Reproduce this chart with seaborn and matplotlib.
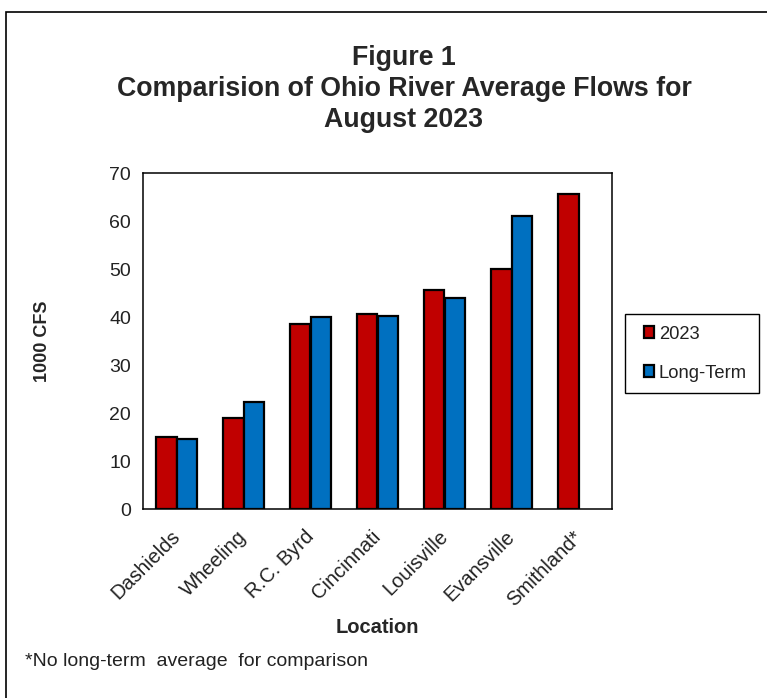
import matplotlib
matplotlib.use("Agg")
import matplotlib.pyplot as plt
import matplotlib.transforms as mtransforms
from matplotlib.patches import Patch, Rectangle
import seaborn as sns
import pandas as pd
import numpy as np

locations = ["Dashields", "Wheeling", "R.C. Byrd", "Cincinnati",
             "Louisville", "Evansville", "Smithland*"]
flow_2023 = [14.9, 18.9, 38.6, 40.7, 45.6, 49.9, 65.6]
flow_long_term = [14.6, 22.3, 39.9, 40.3, 44.0, 61.0, np.nan]
series = ["2023", "Long-Term"]
colors = ["#C00000", "#0070C0"]

df = pd.DataFrame({
    "Location": locations * 2,
    "flow": flow_2023 + flow_long_term,
    "series": [series[0]] * len(locations) + [series[1]] * len(locations),
})

sns.set_style("white")
plt.rcParams["font.family"] = ["Liberation Sans", "DejaVu Sans"]

W, H = 767, 698
fig = plt.figure(figsize=(W / 100, H / 100), dpi=100)
ax = fig.add_axes([143 / W, 1 - 509 / H, (612 - 143) / W, (509 - 173) / H])

sns.barplot(data=df, x="Location", y="flow", hue="series", hue_order=series,
            palette=colors, saturation=1, width=0.6, edgecolor="black",
            linewidth=1.6, legend=False, ax=ax)

ax.set_xlim(-0.5, len(locations) - 0.5)
ax.set_ylim(0, 70)
ax.set_yticks(range(0, 71, 10))
ax.tick_params(axis="y", direction="inout", length=9, width=1.1,
               labelsize=14, colors="black", labelcolor="#222222", pad=4)
ax.set_xticks(range(len(locations)))
ax.set_xticklabels(locations, rotation=45, ha="right", fontsize=14.5,
                   color="#222222")
ax.tick_params(axis="x", length=0, pad=13)
shift = mtransforms.ScaledTranslation(7 / 100, 0, fig.dpi_scale_trans)
for lab in ax.get_xticklabels():
    lab.set_transform(lab.get_transform() + shift)
ax.set_xticks(np.arange(-0.5, len(locations)), minor=True)
ax.tick_params(axis="x", which="minor", direction="inout", length=9, width=1.1)
for s in ax.spines.values():
    s.set_color("black")
    s.set_linewidth(1.1)

ax.set_ylabel("1000 CFS", fontsize=13, fontweight="bold")
ax.yaxis.set_label_coords(-0.197, 0.5)
ax.set_xlabel("Location", fontsize=14.5, fontweight="bold")
ax.xaxis.set_label_coords(0.5, -0.325)

fig.text(404 / W, 1 - 89 / H, "Figure 1\nComparision of Ohio River Average Flows for\nAugust 2023",
         ha="center", va="center", ma="center", fontsize=19.3,
         fontweight="bold", linespacing=1.25)

fig.text(25 / W, 1 - 662 / H, "*No long-term  average  for comparison",
         ha="left", va="center", fontsize=14, color="#222222")

# legend: entries without frame, box drawn separately
handles = [Patch(facecolor=c, edgecolor="black", linewidth=1.6) for c in colors]
leg = fig.legend(handles, series, loc="center left",
                 bbox_to_anchor=(644 / W, 1 - 353.5 / H), fontsize=13.2,
                 frameon=False, handlelength=0.55, handleheight=0.55,
                 handletextpad=0.25, labelspacing=1.2, borderpad=0,
                 borderaxespad=0)
for t in leg.get_texts():
    t.set_color("#222222")
fig.patches.append(Rectangle((625 / W, 1 - 393 / H), (759 - 625) / W,
                             (393 - 314) / H, fill=False, edgecolor="black",
                             linewidth=1.0, transform=fig.transFigure,
                             figure=fig))

fig.patches.append(Rectangle((6 / W, -0.1), 1.2, 1.1 - 12 / H, fill=False,
                             edgecolor="black", linewidth=1.2,
                             transform=fig.transFigure, figure=fig))

fig.savefig("out.png", dpi=100)
